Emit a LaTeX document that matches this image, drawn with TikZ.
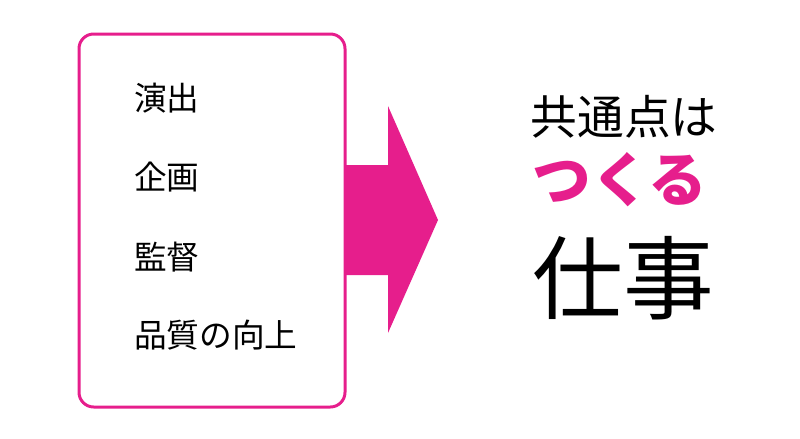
\documentclass[tikz,border=0pt]{standalone}
\usepackage{fontspec}
\setmainfont{Noto Sans CJK JP}
\usepackage{xcolor}
\definecolor{pinkaccent}{RGB}{230,30,140}
\tikzset{
  item/.style={anchor=west, inner sep=0.75pt, font=\fontsize{24.5}{28}\selectfont},
  headline/.style={anchor=center, inner sep=0.75pt}
}

\begin{document}
\begin{tikzpicture}[x=0.75pt,y=0.75pt,yscale=-1,xscale=1]
    \path[use as bounding box] (0,0) rectangle (800,439);

    %Shape: Rounded Rect [id:box]
    \draw[pinkaccent, line width=2.25pt, rounded corners=11pt] (79,34) rectangle (345,407);
    %Shape: Right Arrow [id:arrow]
    \fill[pinkaccent] (345,165) -- (388,165) -- (388,106) -- (438,220) -- (388,333) -- (388,275) -- (345,275) -- cycle;

    % Text Node
    \node (direction) [item] at (133,98) {演出};
    % Text Node
    \node (planning) [item] at (133,177) {企画};
    % Text Node
    \node (supervision) [item] at (133,257) {監督};
    % Text Node
    \node (quality) [item] at (133,335) {品質の向上};

    % Text Node
    \node (common) [headline, font=\fontsize{35}{40}\selectfont] at (624,117) {共通点は};
    % Text Node
    \node (making) [headline, text=pinkaccent, font=\bfseries\fontsize{44}{50}\selectfont] at (620,180) {つくる};
    % Text Node
    \node (work) [headline, font=\fontsize{68}{76}\selectfont] at (623,278) {仕事};
\end{tikzpicture}
\end{document}
